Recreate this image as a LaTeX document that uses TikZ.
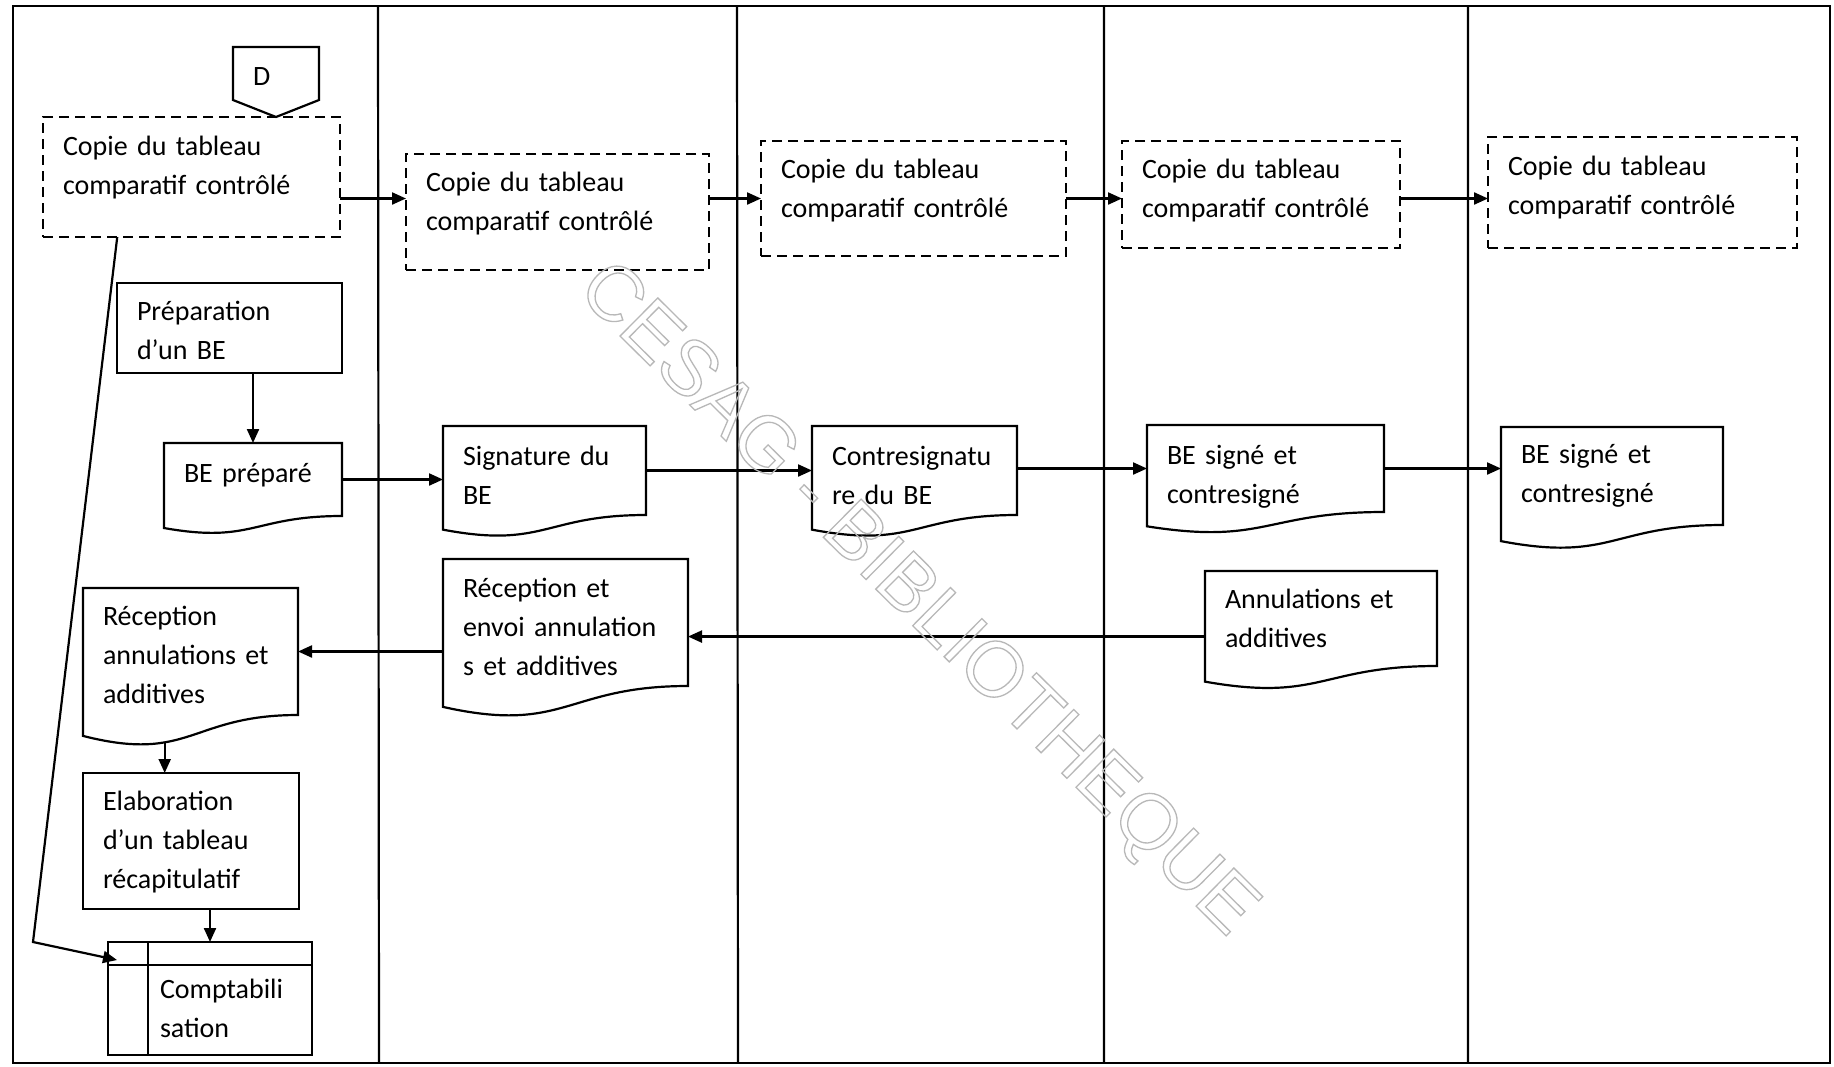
\documentclass[tikz,border=0pt]{standalone}
\usepackage{fontspec}
\setmainfont{Carlito}
\newfontfamily\wmfont{Liberation Sans}
\usetikzlibrary{arrows.meta,calc}
\hyphenpenalty=10000
\exhyphenpenalty=10000

\tikzset{
  ln/.style={line width=2.2pt},
  base/.style={outer sep=0pt, inner xsep=20pt, inner ysep=0pt, align=left,
    font=\fontsize{28}{39}\selectfont},
  % fixes where the first baseline sits inside the box
  tb/.style 2 args={text height=#1pt, text depth=#2pt},
  procbox/.style={base, ln, draw},
  copybox/.style={base, ln, draw, dash pattern=on 10pt off 6pt},
  docbox/.style={base},
  flow/.style={ln, -{Triangle[length=14pt,width=12pt]}},
  lane/.style={line width=2.2pt},
}

% document symbol: straight top and sides, wavy bottom edge
\newcommand\docoutline[1]{%
  \draw[ln] (#1.north west) -- (#1.north east) -- (#1.south east)
    .. controls (#1.south) and ($(#1.south)!-0.381!(#1.north)$)
    .. ($(#1.south west)!-0.1646!(#1.north west)$) -- cycle;}

\begin{document}
\begin{tikzpicture}[x=1pt,y=-1pt]
\useasboundingbox (0,0) rectangle (1834,1066);
\fill[white] (0,0) rectangle (1834,1066);

% swimlanes
\draw[lane] (13,6) rectangle (1830,1063);
\coordinate (l1t) at (378,6);   \coordinate (l1b) at (379,1063);
\coordinate (l2t) at (737,6);   \coordinate (l2b) at (738,1063);
\coordinate (l3t) at (1104,6);  \coordinate (l3b) at (1104,1063);
\coordinate (l4t) at (1468,6);  \coordinate (l4b) at (1468,1063);
\draw[lane] (l1t) -- (l1b) (l2t) -- (l2b) (l3t) -- (l3b) (l4t) -- (l4b);

% off-page connector
\node[base, tb={30}{6}, text width=46pt, minimum height=53pt] (D) at (276,73.5) {D};
\draw[ln] (D.south west) -- (D.north west) -- (D.north east) -- (D.south east)
  -- ($(D.south)+(0,17)$) -- cycle;

% copies of the checked comparison table
\node[copybox, tb={20}{64}, text width=257pt, minimum height=120pt] (c1) at (191.5,177)
  {Copie~du~tableau\\comparatif~contrôlé};
\node[copybox, tb={20}{61}, text width=263pt, minimum height=116pt] (c2) at (557.5,212)
  {Copie~du~tableau\\comparatif~contrôlé};
\node[copybox, tb={20}{61}, text width=265pt, minimum height=115pt] (c3) at (913.5,198.5)
  {Copie~du~tableau\\comparatif~contrôlé};
\node[copybox, tb={20}{52}, text width=238pt, minimum height=107pt] (c4) at (1261,194.5)
  {Copie~du~tableau\\comparatif~contrôlé};
\node[copybox, tb={20}{55}, text width=269pt, minimum height=111pt] (c5) at (1642.5,192.5)
  {Copie~du~tableau\\comparatif~contrôlé};

% processes and documents
\node[procbox, tb={20}{35}, text width=185pt, minimum height=90pt] (prep) at (229.5,328)
  {Préparation\\d’un~BE};
\node[docbox, tb={20}{13.4}, text width=138pt, minimum height=73pt] (bep) at (253,479.5)
  {BE~préparé};
\node[docbox, tb={20}{30}, text width=163pt, minimum height=89pt] (sig) at (544.5,470.5)
  {Signature~du\\BE};
\node[docbox, tb={20}{30}, text width=165pt, minimum height=89pt] (ct) at (914.5,470.5)
  {Contresignatu\\re~du~BE};
\node[docbox, tb={20}{29}, text width=197pt, minimum height=87pt] (bs4) at (1265.5,468.5)
  {BE~signé~et\\contresigné};
\node[docbox, tb={20}{45}, text width=182pt, minimum height=98pt] (bs5) at (1612,476)
  {BE~signé~et\\contresigné};
\node[docbox, tb={20}{40}, text width=192pt, minimum height=95pt] (an) at (1321,618.5)
  {Annulations~et\\additives};
\node[docbox, tb={20}{71}, text width=205pt, minimum height=127pt] (re) at (565.5,622.5)
  {Réception~et\\envoi~annulation\\s~et~additives};
\node[docbox, tb={20}{72}, text width=175pt, minimum height=127pt] (ra) at (190.5,651.5)
  {Réception\\annulations~et\\additives};
\node[procbox, tb={20}{82}, text width=176pt, minimum height=136pt] (elab) at (191,841)
  {Elaboration\\d’un~tableau\\récapitulatif};
\node[procbox, tb={20}{20}, text width=164pt, minimum height=113pt] (cp) at (210,998.5)
  {\hspace*{32pt}Comptabili\\\hspace*{32pt}sation};

\foreach \d in {bep,sig,ct,bs4,bs5,an,re,ra} {\docoutline{\d}}

% ledger card divisions
\draw[ln] ($(cp.north west)+(40,0)$) -- ($(cp.south west)+(40,0)$);
\draw[ln] ($(cp.north west)+(0,23)$) -- ($(cp.north east)+(0,23)$);

% flow of the copies
\draw[flow] (c3.west -| c1.east) -- (c3.west -| c2.west);
\draw[flow] (c3.west -| c2.east) -- (c3.west);
\draw[flow] (c3.east) -- (c3.east -| c4.west);
\draw[flow] (c3.east -| c4.east) -- (c3.east -| c5.west);

% flow of the BE
\draw[flow] (prep.south -| bep.north) -- (bep.north);
\draw[flow] (bep.east) -- (bep.east -| sig.west);
\draw[flow] (sig.east) -- (sig.east -| ct.west);
\draw[flow] (bs4.west -| ct.east) -- (bs4.west);
\draw[flow] (bs4.east) -- (bs4.east -| bs5.west);

% cancellations and additives
\coordinate (anout) at ($(an.north west)!0.69!(an.south west)$);
\draw[flow] (anout) -- (anout -| re.east);
\draw[flow] (ra.east -| re.west) -- (ra.east);
\coordinate (rabot) at ($(ra.south west)!0.38!(ra.south east)+(0,27)$);
\draw[flow] (rabot) -- (rabot |- elab.north);
\draw[flow] (elab.south -| cp.north) -- (cp.north);

% copy sent on to accounting
\coordinate (bend) at (33,942);
\draw[flow] ($(c1.south west)!0.25!(c1.south east)$) -- (bend)
  -- ($(cp.north west)+(9,18)$);

% library stamp
\node[font=\wmfont\fontsize{78}{78}\selectfont, text=black!28, rotate=-44.7]
  (stamp) at (916,601)
  {\special{pdf:literal direct 1 Tr 1.3 w}CESAG - BIBLIOTHEQUE\special{pdf:literal direct 0 Tr}};
\end{tikzpicture}
\end{document}
